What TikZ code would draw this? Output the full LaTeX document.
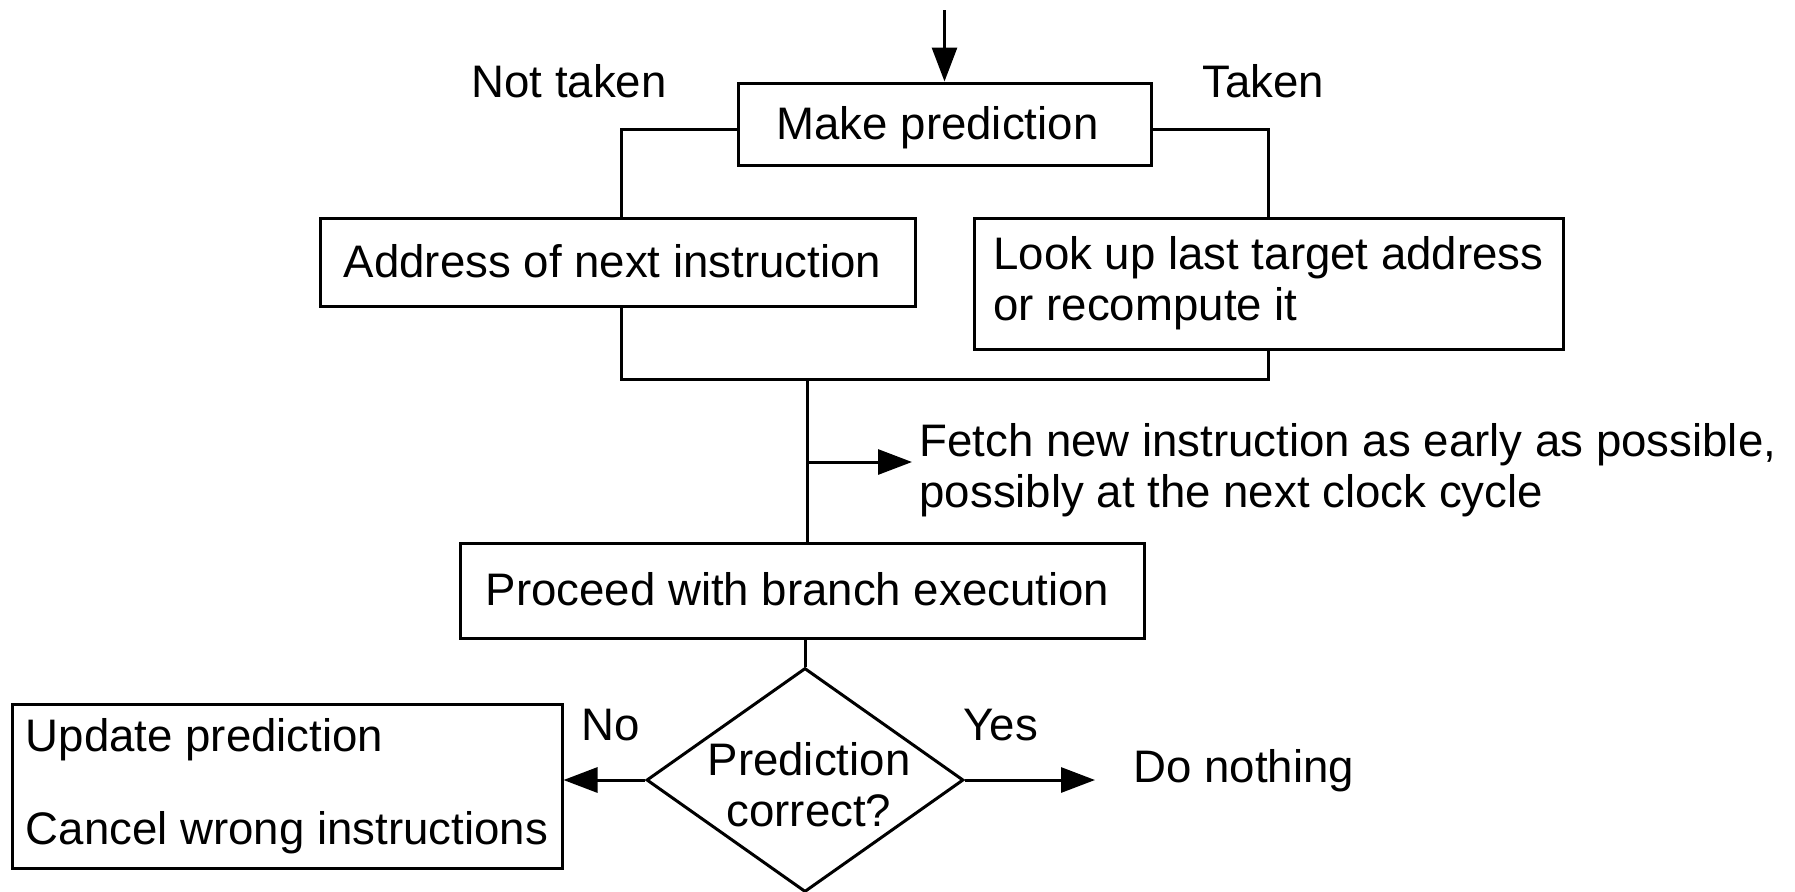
\documentclass[tikz,border=0pt]{standalone}
\usepackage{fontspec}
\setmainfont{Liberation Sans}
\usetikzlibrary{shapes.geometric,arrows.meta}
\begin{document}
\begin{tikzpicture}[x=0.5pt,y=-0.5pt,
  every node/.style={font=\fontsize{22.8}{25.5}\selectfont},
  line width=1.5pt,
  box/.style={draw, line width=1.5pt, inner sep=0pt, text height=15pt, text depth=0pt},
  mbox/.style={draw, line width=1.5pt, inner sep=0pt, align=left},
  txt/.style={inner sep=0pt},
  arr/.style={-{Triangle[length=17pt,width=12.5pt]}},
  decision/.style={diamond, draw, line width=1.5pt, inner sep=0pt, minimum width=158.5pt, minimum height=112pt}]
\useasboundingbox (0,0) rectangle (1795,891);

\node[box, minimum width=206.5pt, minimum height=41pt] (make) at (944.5,124) {Make prediction\rule{7pt}{0pt}};
\node[box, minimum width=297.5pt, minimum height=44pt] (addr) at (617.5,262) {Address of next instruction\rule{5pt}{0pt}};
\node[mbox, minimum width=294.5pt, minimum height=65.5pt] (look) at (1268.5,283.5) {Look up last target address\\or recompute it};
\node[box, minimum width=342pt, minimum height=47.5pt] (proc) at (802,590.5) {Proceed with branch execution\rule{4.5pt}{0pt}};
\node[decision] (dia) at (805,780) {};
\node[txt, align=center] (diatxt) at (809,785) {Prediction\\correct?};
\node[mbox, minimum width=275pt, minimum height=82pt] (upd) at (287,786) {Update prediction\\[21pt]Cancel wrong instructions};
\node[txt, anchor=north west, align=left] (fetch) at (918,422) {Fetch new instruction as early as possible,\\possibly at the next clock cycle};
\node[txt, anchor=base west] (nothing) at (1132,782) {Do nothing};
\node[txt, anchor=base west] (nt) at (470,97) {Not taken};
\node[txt, anchor=base west] (tk) at (1201,97) {Taken};
\node[txt, anchor=base west] (no) at (580,740) {No};
\node[txt, anchor=base west] (yes) at (962,740) {Yes};

\coordinate (start) at (944.5,10);
\coordinate (j) at (807,379);
\coordinate (b) at (807,462);

\draw[arr] (start) -- (make.north);
\draw ([yshift=-2.5pt]make.west) -| ([xshift=1.75pt]addr.north);
\draw ([yshift=-2.5pt]make.east) -| (look.north);
\draw ([xshift=1.75pt]addr.south) |- (j) -| (look.south);
\draw (j) -- (proc.north -| j);
\draw[arr, shorten >=3pt] (b) -- (b -| fetch.west);
\draw (dia.north |- proc.south) -- (dia.north);
\draw[arr] (dia.west) -- (dia.west -| upd.east);
\draw[arr, shorten >=18.5pt] (dia.east) -- (dia.east -| nothing.west);
\end{tikzpicture}
\end{document}
